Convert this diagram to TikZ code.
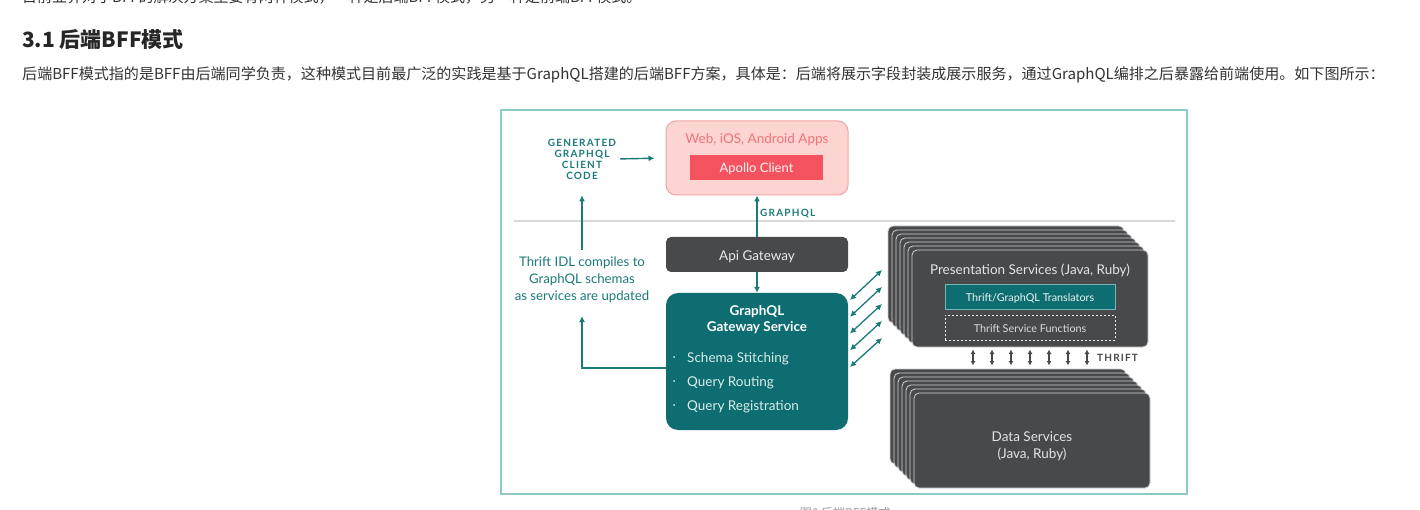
\documentclass[tikz,border=0pt]{standalone}
\usepackage{fontspec}
\setmainfont{Lato}
\newfontfamily\cjk{Noto Sans CJK SC}
\newfontfamily\spaced[LetterSpace=12]{Lato}
\usetikzlibrary{arrows.meta}
\definecolor{tealbox}{HTML}{0D6D70}
\definecolor{tealtxt}{HTML}{1B7B78}
\definecolor{framec}{HTML}{8FCACA}
\definecolor{pinkfill}{HTML}{FCD4D1}
\definecolor{pinkdraw}{HTML}{F3A5A5}
\definecolor{pinktxt}{HTML}{F0737A}
\definecolor{apollo}{HTML}{F5525F}
\definecolor{darkbox}{HTML}{48494B}
\definecolor{sepc}{HTML}{D9D9D9}
\definecolor{bodytxt}{HTML}{333333}
\definecolor{lighttxt}{HTML}{D9ECEC}
\definecolor{captc}{HTML}{9A9A9A}
\tikzset{
  fs/.style={font=\fontsize{#1}{\dimexpr #1pt*6/5\relax}\selectfont},
  box/.style={rectangle, inner sep=0pt},
  arr/.style={draw=tealtxt, line width=1.4pt, -{Latex[length=6pt,width=6pt]}},
  dblarr/.style={draw=tealtxt, line width=1.3pt, {Latex[length=6pt,width=6pt]}-{Latex[length=6pt,width=6pt]}},
  thriftarr/.style={draw=darkbox, line width=1.2pt, {Latex[length=4.5pt,width=5pt]}-{Latex[length=4.5pt,width=5pt]}},
  layer/.style={fill=darkbox, draw=white!75!darkbox, line width=0.8pt, rounded corners=5pt},
  caps/.style={font=\spaced\bfseries\fontsize{#1}{\dimexpr #1pt*6/5\relax}\selectfont},
}
\begin{document}
\begin{tikzpicture}[x=1pt,y=-1pt]
\useasboundingbox (0,0) rectangle (1420,510);
\clip (0,0) rectangle (1420,510);
\fill[white] (0,0) rectangle (1420,510);

% page text
\node[anchor=base west, inner sep=0, text=bodytxt, font=\cjk\fontsize{15}{18}\selectfont] (topline) at (22,3)
  {目前业界对于BFF的解决方案主要有两种模式，一种是后端BFF模式，另一种是前端BFF模式。};
\node[anchor=base west, inner sep=0, text=black!85, font=\cjk\bfseries\fontsize{21}{25}\selectfont] (heading) at (22,48)
  {3.1 后端BFF模式};
\node[anchor=base west, inner sep=0, text=bodytxt, font=\cjk\fontsize{15.05}{18}\selectfont] (body) at (22,80)
  {后端BFF模式指的是BFF由后端同学负责，这种模式目前最广泛的实践是基于GraphQL搭建的后端BFF方案，具体是：后端将展示字段封装成展示服务，通过GraphQL编排之后暴露给前端使用。如下图所示：};
\node[anchor=base, inner sep=0, text=captc, font=\cjk\fontsize{12}{14}\selectfont] (caption) at (845,517.5)
  {图6 后端BFF模式};

% frame and separator
\draw[framec, line width=1.3pt] (501,110) rectangle (1187,494);
\draw[sepc, line width=1.2pt] (514,221) -- (1175,221);

% client apps
\node[box, fill=pinkfill, draw=pinkdraw, line width=1pt, rounded corners=10pt,
      minimum width=182pt, minimum height=74pt] (apps) at (757,158) {};
\node[text=pinktxt, fs=13.5] (appstxt) at (757,140) {Web, iOS, Android Apps};
\node[box, fill=apollo, minimum width=133pt, minimum height=25pt] (apollo) at (756.5,167.5) {};
\node[text=white!94!apollo, fs=13] (apollotxt) at ([yshift=-1.5pt]apollo.center) {Apollo Client};

% generated code
\node[align=center, text=tealtxt, caps=10, inner sep=0] (gen) at (582,159)
  {GENERATED\\[-1pt]GRAPHQL\\[-1pt]CLIENT\\[-1pt]CODE};
\draw[arr, shorten <=4pt, shorten >=11pt] (gen.east) -- (apps.west);

% thrift IDL text
\node[align=center, text=tealtxt, fs=13.2, inner sep=0] (thrift) at (582,280)
  {Thrift IDL compiles to\\[1pt]GraphQL schemas\\[1pt]as services are updated};
\draw[arr, shorten <=7pt, shorten >=16pt] (thrift.north) -- (gen.south);

% api gateway
\node[box, fill=darkbox, rounded corners=5pt, minimum width=182pt, minimum height=35pt] (api) at (757,254.5) {};
\node[text=white!88!darkbox, fs=13.5] (apitxt) at ([yshift=-2pt]api.center) {Api Gateway};
\draw[arr] (api.north) -- (apps.south);
\node[anchor=west, text=tealtxt, caps=10, inner sep=0] (gqllbl) at (760,213.5) {GRAPHQL};

% gateway service
\node[box, fill=tealbox, rounded corners=12pt, minimum width=182pt, minimum height=137pt] (gw) at (757,361.5) {};
\node[align=center, text=white, font=\bfseries\fontsize{13.5}{16}\selectfont, inner sep=0] (gwtitle) at (757,320)
  {GraphQL\\Gateway Service};
\foreach \t/\yy [count=\i] in {Schema Stitching/357, Query Routing/381, Query Registration/405}{
  \fill[lighttxt] (674,\yy) circle (1pt);
  \node[anchor=west, text=lighttxt, fs=13.5, inner sep=0] (gwitem\i) at (687,\yy+2) {\t};
}
\draw[arr] (api.south) -- (gw.north);
\draw[arr, shorten >=13pt] ([yshift=-6.5pt]gw.west) -| (thrift.south);

% presentation stack
\foreach \k in {6,...,1}{
  \draw[layer] (912-4*\k,250-4*\k) rectangle (1148-4*\k,347-4*\k);
}
\node[box, layer, minimum width=236pt, minimum height=97pt] (pres) at (1030,298.5) {};
\node[text=white!85!darkbox, fs=13.5] (prestxt) at (1030,270.5) {Presentation Services (Java, Ruby)};
\node[box, fill=tealbox, draw=framec!80!tealbox, line width=0.8pt, minimum width=170pt, minimum height=25pt] (transl) at (1030,296.5) {};
\node[text=white!92!tealbox, fs=10.8] (transltxt) at ([yshift=-1.5pt]transl.center) {Thrift/GraphQL Translators};
\node[box, draw=white!90!darkbox, dashed, dash pattern=on 2pt off 2pt, line width=1pt, minimum width=170pt, minimum height=25pt] (funcs) at (1030,327.5) {};
\node[text=white!80!darkbox, fs=10.8] (funcstxt) at ([yshift=-1.5pt]funcs.center) {Thrift Service Functions};

% gateway <-> presentation
\foreach \i in {0,...,4}{
  \coordinate (dl\i) at (850,300+16.75*\i);
  \coordinate (dr\i) at (882,270+17*\i);
  \draw[dblarr] (dl\i) -- (dr\i);
}

% data stack
\foreach \k in {6,...,1}{
  \draw[layer] (914-4*\k,393-4*\k) rectangle (1150-4*\k,488-4*\k);
}
\node[box, layer, minimum width=236pt, minimum height=95pt] (data) at (1032,440.5) {};
\node[align=center, text=white!85!darkbox, fs=13.5, inner sep=0] (datatxt) at ([yshift=-6pt]data.center) {Data Services\\[1pt](Java, Ruby)};

% thrift arrows
\foreach \xx [count=\i] in {973,992,1011,1030,1049,1068,1087}{
  \coordinate (ta\i) at (\xx,349.5);
  \coordinate (tb\i) at (\xx,365.5);
  \draw[thriftarr] (ta\i) -- (tb\i);
}
\node[anchor=west, text=darkbox, caps=10, inner sep=0] (thriftlbl) at (1097,358) {THRIFT};
\end{tikzpicture}
\end{document}
